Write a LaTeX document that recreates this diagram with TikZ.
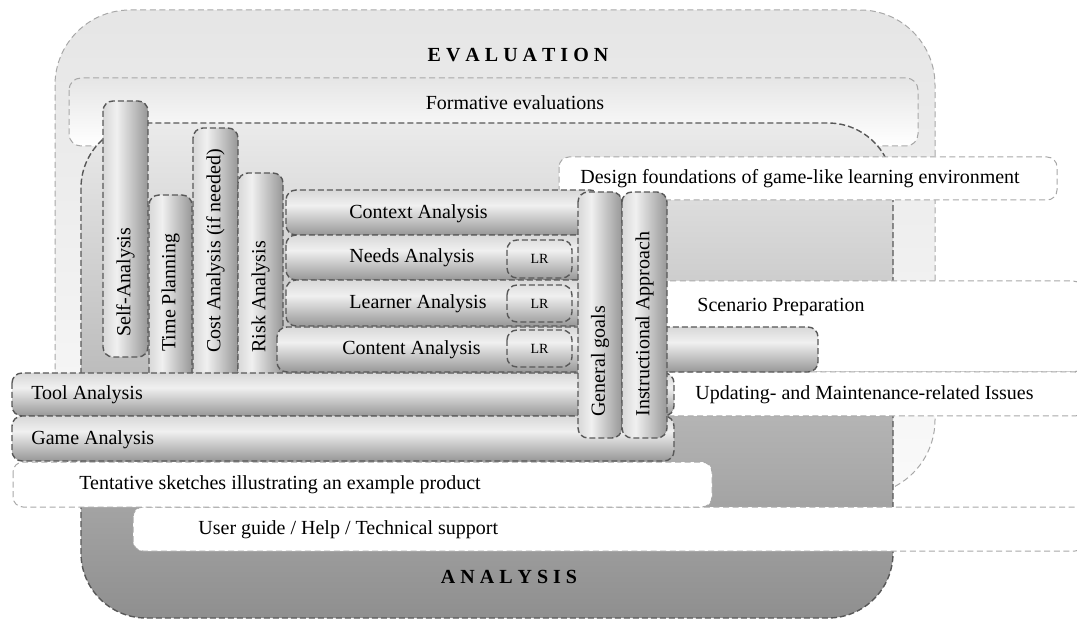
\documentclass[tikz,border=0pt]{standalone}
\usepackage{fontspec}
\setmainfont{Liberation Serif}
\definecolor{lgray}{HTML}{A8A8A8}
\definecolor{dgray}{HTML}{585858}
\definecolor{bedge}{HTML}{D8D8D8}
\definecolor{blite}{HTML}{F0F0F0}
\definecolor{bdark}{HTML}{979797}
\pgfdeclareverticalshading{hshade}{100bp}{color(0bp)=(bdark); color(25bp)=(bdark); color(58bp)=(blite); color(75bp)=(bedge); color(100bp)=(bedge)}
\pgfdeclarehorizontalshading{vshade}{100bp}{color(0bp)=(bedge); color(25bp)=(bedge); color(40bp)=(blite); color(75bp)=(bdark); color(100bp)=(bdark)}
\begin{document}
\begin{tikzpicture}[x=0.5pt,y=-0.5pt,font=\fontsize{10}{12}\selectfont,
  litedash/.style={draw=lgray,line width=.5pt,dash pattern=on 3pt off 1.8pt},
  darkdash/.style={draw=dgray,line width=.7pt,dash pattern=on 3pt off 1.5pt},
  wbox/.style={litedash,fill=white,rounded corners=5pt},
  hbar/.style={darkdash,shade,shading=hshade,rounded corners=5pt},
  vbar/.style={darkdash,shade,shading=vshade,rounded corners=5pt},
  lrbox/.style={darkdash,rounded corners=5pt},
  txt/.style={inner sep=0pt,anchor=west},
  vtxt/.style={inner sep=0pt,anchor=west,rotate=90},
  big/.style={inner sep=0pt,font=\fontsize{10}{12}\selectfont\bfseries}]
\useasboundingbox (0,0) rectangle (1077,620);
% evaluation and analysis
\draw[litedash,rounded corners=37.5pt,top color=black!10,bottom color=black!2] (55,10) rectangle (935,495);
\draw[litedash,rounded corners=6pt,top color=black!10,bottom color=white] (69,78) rectangle (918,146);
\draw[darkdash,rounded corners=32.5pt,top color=black!8,bottom color=black!44] (81,123) rectangle (893,618);
% white boxes
\draw[wbox] (559,157) rectangle (1057,200);
\draw[wbox,rounded corners=6pt] (640,281) rectangle (1085,372);
\draw[wbox] (650,372) rectangle (1085,416);
\draw[wbox] (133,507) rectangle (1085,551);
\draw[wbox] (13,462) rectangle (712,507);
% vertical bars
\draw[vbar] (103,101) rectangle (148,357);
\draw[vbar] (149,195) rectangle (192,385);
\draw[vbar] (193,128) rectangle (238,385);
\draw[vbar] (238,173) rectangle (283,385);
\draw[hbar] (12,373) rectangle (674,416);
\draw[hbar] (12,416) rectangle (674,461);
% horizontal bars
\draw[hbar] (286,190) rectangle (600,235);
\draw[hbar] (286,235) rectangle (600,280);
\draw[hbar] (286,280) rectangle (600,326);
\draw[hbar] (277,327) rectangle (818,372);
\draw[lrbox] (507,240) rectangle (572,278);
\draw[lrbox] (507,285) rectangle (572,322);
\draw[lrbox] (507,330) rectangle (572,367);
\draw[vbar] (578,192) rectangle (622,438);
\draw[vbar] (622,192) rectangle (667,438);
% texts
\node[big] (ev) at (518,55) {E V A L U A T I O N};
\node[inner sep=0pt] (fe) at (515,103) {Formative evaluations};
\node[txt] (df) at (580,179) {Design foundations of game-like learning environment};
\node[txt] (sp) at (697,307) {Scenario Preparation};
\node[txt] (up) at (695,395) {Updating- and Maintenance-related Issues};
\node[txt] (ta) at (31,395) {Tool Analysis};
\node[txt] (ga) at (31,440) {Game Analysis};
\node[inner sep=0pt] (ts) at (280,485) {Tentative sketches illustrating an example product};
\node[txt] (ug) at (198,530) {User guide / Help / Technical support};
\node[big] (an) at (509,577) {A N A L Y S I S};
\node[txt] (ca) at (349,214) {Context Analysis};
\node[txt] (na) at (349,258) {Needs Analysis};
\node[txt] (la) at (349,304) {Learner Analysis};
\node[txt] (co) at (342,350) {Content Analysis};
\node[inner sep=0pt,font=\fontsize{7}{8}\selectfont] (lr1) at (539.5,259) {LR};
\node[inner sep=0pt,font=\fontsize{7}{8}\selectfont] (lr2) at (539.5,303.5) {LR};
\node[inner sep=0pt,font=\fontsize{7}{8}\selectfont] (lr3) at (539.5,348.5) {LR};
\node[vtxt] (sa) at (125.5,337) {Self-Analysis};
\node[vtxt] (tp) at (170.5,352) {Time Planning};
\node[vtxt] (cs) at (215.5,353) {Cost Analysis (if needed)};
\node[vtxt] (ra) at (260.5,353) {Risk Analysis};
\node[vtxt] (gg) at (600,417) {General goals};
\node[vtxt] (ia) at (644.5,417) {Instructional Approach};
\end{tikzpicture}
\end{document}
